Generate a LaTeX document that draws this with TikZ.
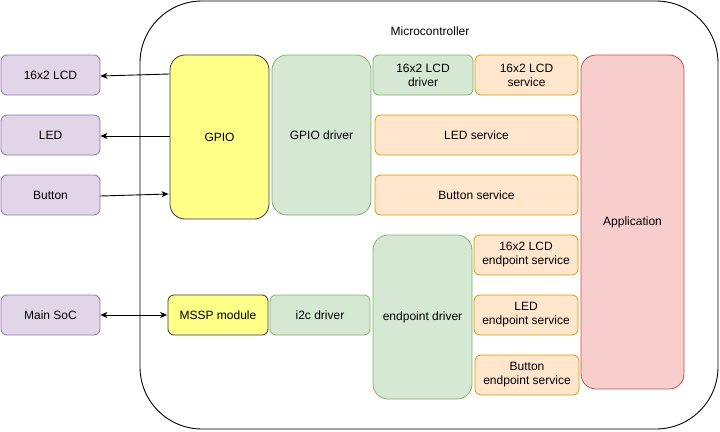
\documentclass[tikz,border=0pt]{standalone}
\usepackage{fontspec}
\setmainfont{Liberation Sans}
\usetikzlibrary{arrows.meta}
\definecolor{purpF}{HTML}{E1D5E7}\definecolor{purpD}{HTML}{9673A6}
\definecolor{yelF}{HTML}{FFFF88}\definecolor{yelD}{HTML}{36393D}
\definecolor{grnF}{HTML}{D5E8D4}\definecolor{grnD}{HTML}{82B366}
\definecolor{orgF}{HTML}{FFE6CC}\definecolor{orgD}{HTML}{D79B00}
\definecolor{pinkF}{HTML}{F8CECC}\definecolor{pinkD}{HTML}{B85450}
\tikzset{
  blk/.style={line width=0.8pt, font=\fontsize{12}{14}\selectfont, align=center, inner sep=0pt, rectangle},
  sz/.style 2 args={minimum width=#1, minimum height=#2},
  purp/.style={blk, fill=purpF, draw=purpD, rounded corners=6pt},
  yel/.style={blk, fill=yelF, draw=yelD},
  grn/.style={blk, fill=grnF, draw=grnD},
  org/.style={blk, fill=orgF, draw=orgD, rounded corners=6pt},
  pnk/.style={blk, fill=pinkF, draw=pinkD},
  arr/.style={line width=0.9pt, -{Stealth[length=7pt,width=6pt,inset=2pt]}},
  darr/.style={line width=0.9pt, {Stealth[length=7pt,width=6pt,inset=2pt]}-{Stealth[length=7pt,width=6pt,inset=2pt]}},
}
\begin{document}
\begin{tikzpicture}[x=1pt,y=-1pt]
\useasboundingbox (0,0) rectangle (720,431);
% outer
\node[draw, line width=0.9pt, rounded corners=62pt, minimum width=578pt, minimum height=428pt, inner sep=0pt] (outer) at (429,215) {};
\node[font=\fontsize{12}{14}\selectfont] (mc) at (430,31) {Microcontroller};
% left boxes
\node[purp, sz={99pt}{40pt}] (lcd) at (50.5,75) {16x2 LCD};
\node[purp, sz={99pt}{40pt}] (led) at (50.5,135) {LED};
\node[purp, sz={99pt}{40pt}] (btn) at (50.5,195) {Button};
\node[purp, sz={99pt}{40pt}] (soc) at (50.5,315) {Main SoC};
% GPIO column
\node[yel, rounded corners=15pt, sz={99pt}{164pt}] (gpio) at (219.5,137) {GPIO};
\node[grn, rounded corners=15pt, sz={99pt}{160pt}] (gdrv) at (321.5,135) {GPIO driver};
\node[grn, rounded corners=6pt, sz={100pt}{40pt}] (lcddrv) at (423,75) {16x2 LCD\\driver};
\node[org, sz={103pt}{40pt}] (lcdsvc) at (526.5,75) {16x2 LCD\\service};
\node[org, sz={203pt}{40pt}] (ledsvc) at (476.5,135) {LED service};
\node[org, sz={203pt}{40pt}] (btnsvc) at (476.5,195) {Button service};
\node[pnk, rounded corners=15pt, sz={103pt}{334pt}] (app) at (632.5,222) {Application};
% lower
\node[yel, rounded corners=6pt, sz={100pt}{40pt}] (mssp) at (218,315) {MSSP module};
\node[grn, rounded corners=6pt, sz={100pt}{40pt}] (i2c) at (320,315) {i2c driver};
\node[grn, rounded corners=15pt, sz={99pt}{164pt}] (epd) at (422.5,317) {endpoint driver};
\node[org, sz={104pt}{40pt}] (ep1) at (526,255) {16x2 LCD\\endpoint service};
\node[org, sz={104pt}{40pt}] (ep2) at (526,315) {LED\\endpoint service};
\node[org, sz={104pt}{40pt}] (ep3) at (527,375) {Button\\endpoint service};
% arrows
\draw[arr] (gpio.west |- 0,74) -- (lcd.east |- 0,76);
\draw[arr] (gpio.west |- 0,136) -- (led.east |- 0,136);
\draw[arr] (btn.east |- 0,196) -- ([xshift=-1pt]gpio.west |- 0,194);
\draw[darr] (soc.east) -- ([xshift=-0.5pt]mssp.west);
\end{tikzpicture}
\end{document}
